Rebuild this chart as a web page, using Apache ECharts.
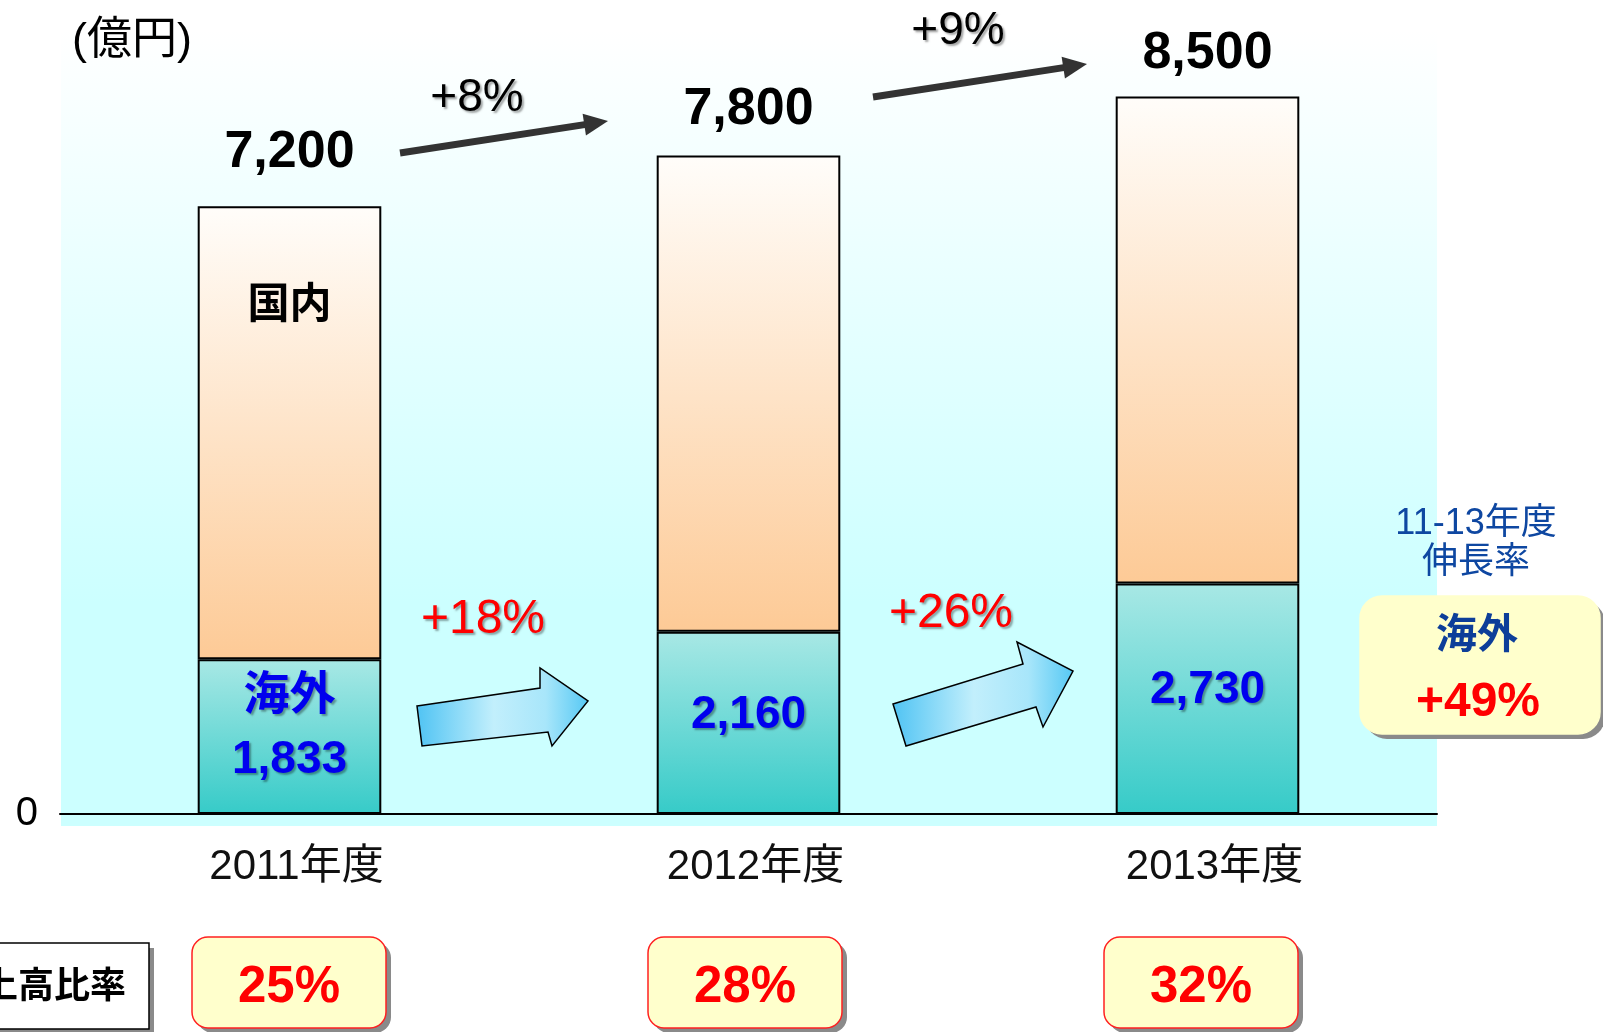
<!DOCTYPE html>
<html>
<head>
<meta charset="utf-8">
<script src="https://cdn.jsdelivr.net/npm/echarts@6/dist/echarts.min.js"></script>
<style>
  html, body { margin: 0; padding: 0; background: #fff; }
  #main { width: 1603px; height: 1032px; }
</style>
</head>
<body>
<div id="main"></div>
<script>
// データ（億円）
var categories = ['2011年度', '2012年度', '2013年度'];
var overseas = [1833, 2160, 2730];
var domestic = [5367, 5640, 5770];
var totals = [7200, 7800, 8500];
var totalGrowth = ['+8%', '+9%'];
var overseasGrowth = ['+18%', '+26%'];
var overseasRatio = ['25%', '28%', '32%'];
var overseasGrowth1113 = '+49%';

var FONT = '"Liberation Sans", "Noto Sans CJK JP", sans-serif';
var fmt = function (v) { return v.toLocaleString('en-US'); };
var shadow = { textShadowColor: 'rgba(0,0,0,0.35)', textShadowBlur: 2, textShadowOffsetX: 2, textShadowOffsetY: 2 };

(function () {
  var myChart = echarts.init(document.getElementById('main'));

  // 合計ラベルの上余白（見た目合わせ）
  var totalLabelGap = [28, 20, 17];

  var option = {
    animation: false,
    grid: { left: 60, right: 166, top: 72, bottom: 218 },
    xAxis: {
      type: 'category',
      data: categories,
      axisLine: { lineStyle: { color: '#000', width: 2 } },
      axisTick: { show: false },
      axisLabel: { color: '#111', fontSize: 42, fontFamily: FONT, margin: 32, padding: [0, 0, 0, 14] }
    },
    yAxis: {
      type: 'value',
      min: 0,
      max: 8790,
      interval: 8790,
      axisLine: { show: false },
      axisTick: { show: false },
      splitLine: { show: false },
      axisLabel: {
        color: '#000', fontSize: 40, fontFamily: FONT, margin: 22,
        formatter: function (v) { return v === 0 ? '0' : ''; }
      }
    },
    series: [
      {
        name: '海外',
        type: 'bar',
        stack: 'total',
        barWidth: '40%',
        itemStyle: {
          borderColor: '#000',
          borderWidth: 2,
          color: new echarts.graphic.LinearGradient(0, 0, 0, 1, [
            { offset: 0, color: '#A8E8E5' },
            { offset: 1, color: '#36CBC8' }
          ])
        },
        label: Object.assign({
          show: true,
          position: 'inside',
          offset: [0, -8],
          color: '#0000EE',
          fontSize: 46,
          fontWeight: 'bold',
          fontFamily: FONT,
          lineHeight: 64,
          formatter: function (p) {
            return p.dataIndex === 0 ? '海外\n' + fmt(p.value) : fmt(p.value);
          }
        }, shadow),
        data: overseas
      },
      {
        name: '国内',
        type: 'bar',
        stack: 'total',
        itemStyle: {
          borderColor: '#000',
          borderWidth: 2,
          color: new echarts.graphic.LinearGradient(0, 0, 0, 1, [
            { offset: 0, color: '#FFFDFA' },
            { offset: 1, color: '#FDCA96' }
          ])
        },
        label: { show: false },
        data: domestic.map(function (v, i) {
          if (i !== 0) return v;
          return {
            value: v,
            label: {
              show: true,
              position: 'insideTop',
              distance: 79,
              color: '#000',
              fontSize: 42,
              fontWeight: 'bold',
              fontFamily: FONT,
              formatter: '国内'
            }
          };
        })
      },
      {
        name: '合計',
        type: 'scatter',
        symbolSize: 0,
        silent: true,
        itemStyle: { opacity: 1 },
        label: {
          show: true,
          position: 'top',
          color: '#000',
          fontSize: 52,
          fontWeight: 'bold',
          fontFamily: FONT,
          formatter: function (p) { return fmt(p.value); }
        },
        data: totals.map(function (v, i) {
          return { value: v, label: { distance: totalLabelGap[i] } };
        })
      }
    ]
  };

  myChart.setOption(option);

  // 背景・矢印・注記
  function arrowHead(x1, y1, x2, y2, len, half) {
    var dx = x2 - x1, dy = y2 - y1, d = Math.sqrt(dx * dx + dy * dy);
    var ux = dx / d, uy = dy / d;
    var bx = x2 - ux * len, by = y2 - uy * len;
    return {
      shaftEnd: [bx + ux * 2, by + uy * 2],
      head: [[x2, y2], [bx - uy * half, by + ux * half], [bx + uy * half, by - ux * half]]
    };
  }
  function darkArrow(x1, y1, x2, y2) {
    var a = arrowHead(x1, y1, x2, y2, 24, 11);
    return [
      { type: 'line', z: 10, shape: { x1: x1, y1: y1, x2: a.shaftEnd[0], y2: a.shaftEnd[1] },
        style: { stroke: '#333', lineWidth: 7 } },
      { type: 'polygon', z: 10, shape: { points: a.head }, style: { fill: '#333' } }
    ];
  }
  var blueFill = new echarts.graphic.LinearGradient(0, 0, 1, 0, [
    { offset: 0, color: '#4FC3F3' },
    { offset: 0.45, color: '#C2EFFC' },
    { offset: 0.75, color: '#A8E6FA' },
    { offset: 1, color: '#55C8F4' }
  ]);
  function blockArrow(pts) {
    return { type: 'polygon', z: 10, shape: { points: pts },
      style: { fill: blueFill, stroke: '#000', lineWidth: 1.5 } };
  }
  function text(t, x, y, size, color, bold, extra) {
    return { type: 'text', z: 12, x: x, y: y,
      style: Object.assign({ text: t, fill: color, font: (bold ? 'bold ' : '') + size + 'px ' + FONT,
        textAlign: 'center', textVerticalAlign: 'middle' }, extra || {}) };
  }
  function box(x, y, w, h, r, fill, stroke) {
    return [
      { type: 'rect', z: 8, shape: { x: x + 5, y: y + 5, width: w, height: h, r: r }, style: { fill: '#8A8A8A' } },
      { type: 'rect', z: 9, shape: { x: x, y: y, width: w, height: h, r: r },
        style: { fill: fill, stroke: stroke, lineWidth: 1.5 } }
    ];
  }

  var g = [];
  g.push({ type: 'rect', z: -10, shape: { x: 61, y: 30, width: 1376, height: 796 },
    style: { fill: new echarts.graphic.LinearGradient(0, 0, 0, 1, [
      { offset: 0, color: '#FFFFFF' },
      { offset: 0.72, color: '#CCFFFF' },
      { offset: 1, color: '#CCFFFF' }
    ]) } });
  g.push(text('(億円)', 132, 42, 45, '#000', false));

  g = g.concat(darkArrow(400, 153, 608, 121));
  g = g.concat(darkArrow(873, 97, 1087, 64));
  g.push(text(totalGrowth[0], 477, 98, 46, '#000', false, shadow));
  g.push(text(totalGrowth[1], 958, 31, 46, '#000', false, shadow));

  g.push(blockArrow([[417, 706], [540, 688], [540, 668], [588, 701], [552, 746], [548, 732], [422, 746]]));
  g.push(blockArrow([[893, 704], [1023, 664], [1017, 642], [1073, 671], [1043, 727], [1036, 707], [906, 746]]));
  g.push(text(overseasGrowth[0], 483, 620, 48, '#FF0000', false, shadow));
  g.push(text(overseasGrowth[1], 951, 614, 48, '#FF0000', false, shadow));

  // 右側：11-13年度 伸長率
  g.push(text('11-13年度', 1476, 524, 36, '#0E47A1', false));
  g.push(text('伸長率', 1476, 563, 36, '#0E47A1', false));
  g = g.concat(box(1360, 596, 240, 138, 22, '#FFFFCC', '#FFFFCC'));
  g.push(text('海外', 1477, 637, 41, '#0D3E99', true));
  g.push(text(overseasGrowth1113, 1478, 703, 48, '#FF0000', true));

  // 下段：海外売上高比率
  var ratioBoxX = [289, 745, 1201];
  g = g.concat(box(-70, 943, 219, 86, 0, '#FFFFFF', '#000'));
  g.push(text('売上高比率', 126, 988, 36, '#000', true, { textAlign: 'right' }));
  overseasRatio.forEach(function (r, i) {
    var cx = ratioBoxX[i];
    g = g.concat(box(cx - 97, 937, 194, 91, 16, '#FFFFCC', '#FF2020'));
    g.push(text(r, cx, 988, 51, '#FF0000', true));
  });

  myChart.setOption({ graphic: g });
  window.addEventListener('resize', myChart.resize);
})();
</script>
</body>
</html>
